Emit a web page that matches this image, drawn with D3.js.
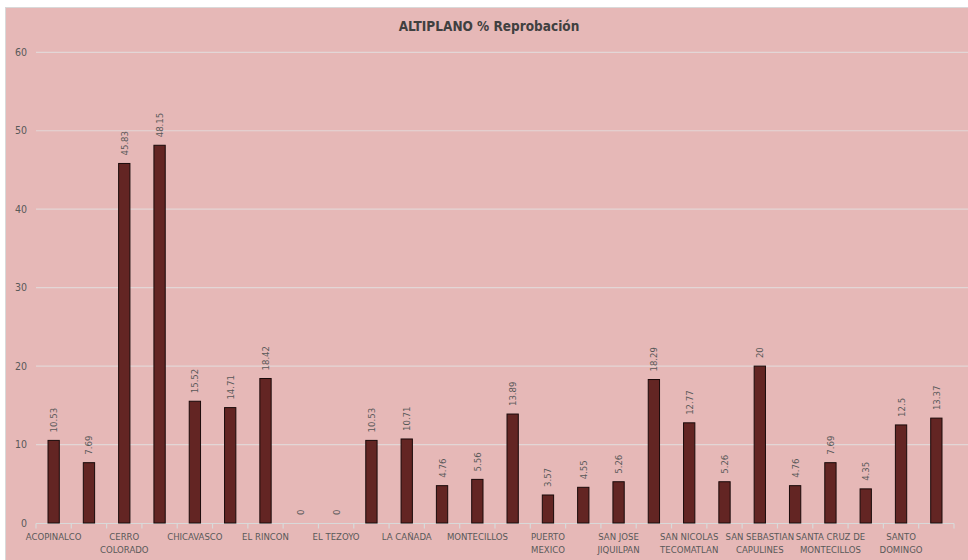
<!DOCTYPE html>
<html><head><meta charset="utf-8">
<script src="https://cdn.jsdelivr.net/npm/d3@7"></script>
<style>
html,body{margin:0;padding:0;background:#fff;}
svg{display:block;}
text{font-family:"Liberation Sans Narrow","Arial Narrow","DejaVu Sans Condensed",sans-serif;}
</style></head><body>
<svg id="c" width="968" height="560"></svg>
<script>
const title = "ALTIPLANO % Reprobación";
const categories = ["ACOPINALCO","","CERRO\nCOLORADO","","CHICAVASCO","","EL RINCON","","EL TEZOYO","","LA CAÑADA","","MONTECILLOS","","PUERTO\nMEXICO","","SAN JOSE\nJIQUILPAN","","SAN NICOLAS\nTECOMATLAN","","SAN SEBASTIAN\nCAPULINES","","SANTA CRUZ DE\nMONTECILLOS","","SANTO\nDOMINGO",""];
const values = [10.53,7.69,45.83,48.15,15.52,14.71,18.42,0,0,10.53,10.71,4.76,5.56,13.89,3.57,4.55,5.26,18.29,12.77,5.26,20,4.76,7.69,4.35,12.5,13.37];
const yTicks = [0,10,20,30,40,50,60];

const svg = d3.select("#c");
svg.append("rect").attr("x",5.5).attr("y",7.5).attr("width",970).attr("height",560)
  .attr("fill","#e6b8b7").attr("stroke","#d9d9d9").attr("stroke-width",1);

const x = d3.scaleBand().domain(d3.range(values.length)).range([36,954]).padding(0);
const y = d3.scaleLinear().domain([0,60]).range([523,52.3]);

// gridlines
svg.append("g").selectAll("line").data(yTicks.filter(t=>t>0)).join("line")
  .attr("x1",36).attr("x2",968).attr("y1",d=>y(d)).attr("y2",d=>y(d))
  .attr("stroke","#e3d6d6").attr("stroke-width",1.2);

// y axis labels
svg.append("g").selectAll("text").data(yTicks).join("text")
  .attr("x",27).attr("y",d=>y(d)).attr("dy","0.35em").attr("text-anchor","end")
  .attr("font-size",10.5).attr("fill","#595959").text(d=>d);

// x axis line and ticks
const xa = svg.append("g");
xa.append("line").attr("x1",36).attr("x2",954).attr("y1",523.5).attr("y2",523.5)
  .attr("stroke","#d9d9d9").attr("stroke-width",1.2);
xa.selectAll("line.t").data(d3.range(values.length+1)).join("line").attr("class","t")
  .attr("x1",i=>36+i*x.step()).attr("x2",i=>36+i*x.step())
  .attr("y1",523.5).attr("y2",528.5).attr("stroke","#d9d9d9").attr("stroke-width",1.2);

// bars
const bw = x.bandwidth()*0.32;
svg.append("g").selectAll("rect").data(values).join("rect")
  .attr("x",(d,i)=>x(i)+x.bandwidth()/2-bw/2)
  .attr("y",d=>y(d)).attr("width",bw).attr("height",d=>y(0)-y(d))
  .attr("fill","#632523").attr("stroke","#1a0a0a").attr("stroke-width",1);

// value labels
svg.append("g").selectAll("text").data(values).join("text")
  .attr("transform",(d,i)=>`translate(${x(i)+x.bandwidth()/2+3.5},${y(d)-8}) rotate(-90)`)
  .attr("font-size",9.5).attr("fill","#595959").text(d=>String(d));

// category labels
const cl = svg.append("g");
categories.forEach((c,i)=>{
  if(!c) return;
  const t = cl.append("text").attr("x",x(i)+x.bandwidth()/2).attr("y",540)
    .attr("text-anchor","middle").attr("font-size",9.5).attr("fill","#595959");
  c.split("\n").forEach((ln,j)=>{
    t.append("tspan").attr("x",x(i)+x.bandwidth()/2).attr("dy",j===0?0:12.5).text(ln);
  });
});

// title
svg.append("text").attr("x",489).attr("y",31).attr("text-anchor","middle")
  .attr("font-size",13.5).attr("font-weight","bold").attr("fill","#404040").text(title);
</script>
</body></html>
